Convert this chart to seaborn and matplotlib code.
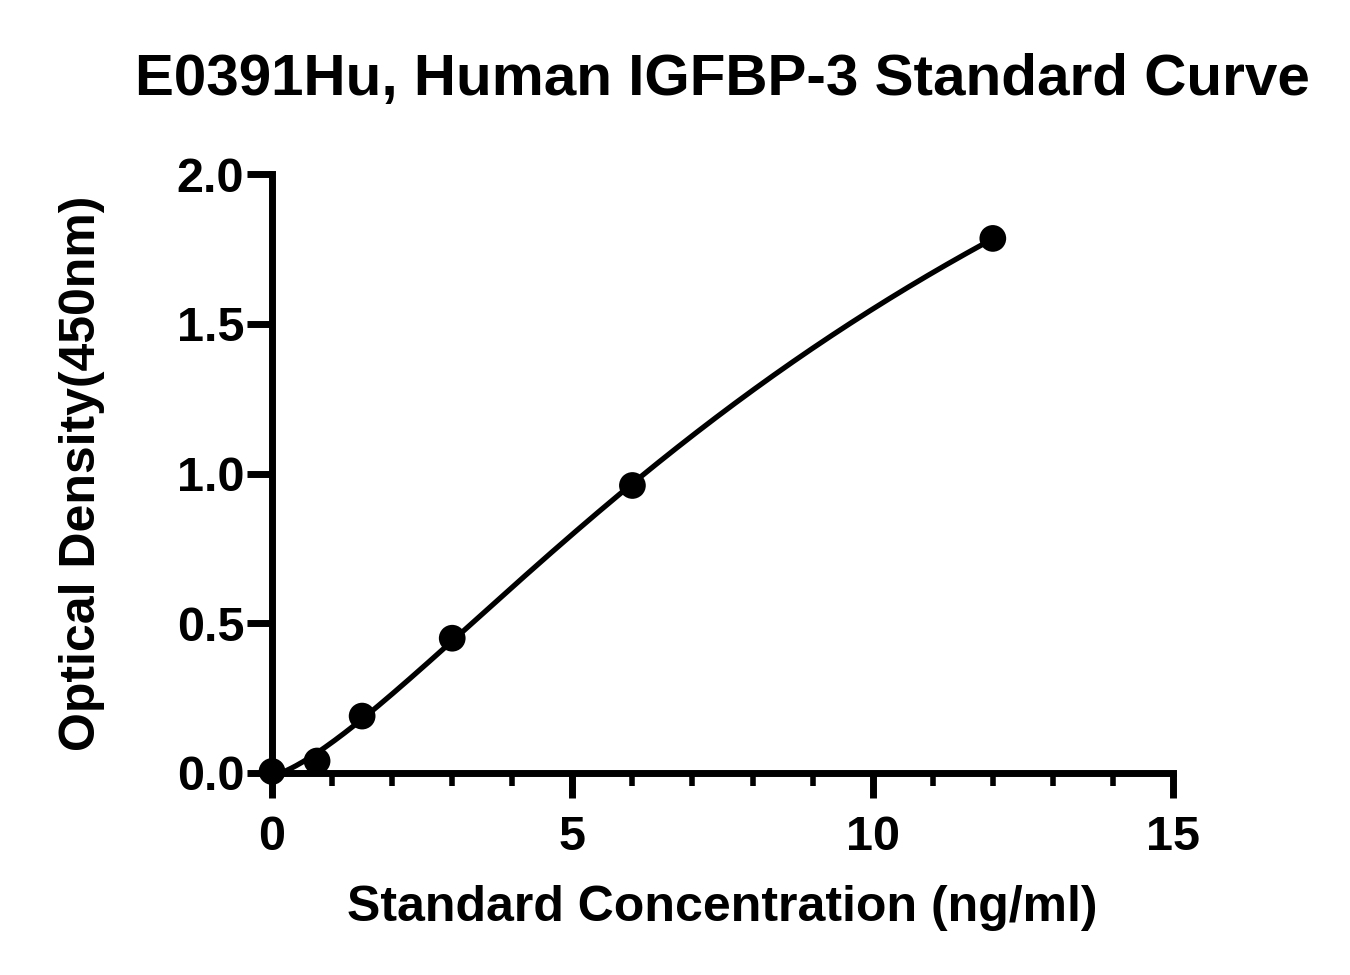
import numpy as np
import pandas as pd
import matplotlib
matplotlib.use('Agg')
import matplotlib.pyplot as plt
import seaborn as sb

# standard points
conc = [0, 0.75, 1.5, 3, 6, 12]
od = [0.005, 0.04, 0.19, 0.45, 0.96, 1.785]
title = 'E0391Hu, Human IGFBP-3 Standard Curve'
xlabel = 'Standard Concentration (ng/ml)'
ylabel = 'Optical Density(450nm)'
xticks = [0, 5, 10, 15]
yticks = [0.0, 0.5, 1.0, 1.5, 2.0]

sb.set_style('ticks', {'axes.edgecolor': 'black', 'text.color': 'black',
                       'axes.labelcolor': 'black', 'xtick.color': 'black',
                       'ytick.color': 'black'})
plt.rcParams['font.family'] = ['Liberation Sans', 'DejaVu Sans']
plt.rcParams['font.weight'] = 'bold'


def four_pl(p, x):
    a, b, c, d = p
    return d + (a - d) / (1 + (x / c) ** b)


def fit_4pl(x, y, p0, n_iter=500):
    # small Levenberg-Marquardt, numeric jacobian
    x = np.asarray(x, float)
    y = np.asarray(y, float)
    p = np.array(p0, float)
    lam = 1e-2
    err = np.sum((four_pl(p, x) - y) ** 2)
    for _ in range(n_iter):
        r = four_pl(p, x) - y
        J = np.zeros((len(x), len(p)))
        for j in range(len(p)):
            dp = np.zeros_like(p)
            dp[j] = 1e-6 * max(abs(p[j]), 1e-3)
            J[:, j] = (four_pl(p + dp, x) - four_pl(p, x)) / dp[j]
        H = J.T @ J
        step = np.linalg.solve(H + lam * np.diag(np.diag(H) + 1e-12), -J.T @ r)
        pn = p + step
        if pn[2] <= 0 or pn[1] <= 0:
            lam *= 10
            continue
        en = np.sum((four_pl(pn, x) - y) ** 2)
        if en < err:
            p, err, lam = pn, en, lam / 3
        else:
            lam *= 5
    return p


df = pd.DataFrame({'conc': conc, 'od': od})
params = fit_4pl(conc, od, [0.0, 1.5, 10.0, 3.5])
xs = np.linspace(0, max(conc), 300)
fit = pd.DataFrame({'conc': xs, 'od': four_pl(params, xs)})

fig = plt.figure(figsize=(13.5, 9.75), dpi=100)
ax = fig.add_axes([0.2015, 0.2072, 0.6674, 0.6143])

sb.lineplot(data=fit, x='conc', y='od', ax=ax, color='black', linewidth=3.8)
sb.scatterplot(data=df, x='conc', y='od', ax=ax, color='black', s=370,
               edgecolor='none', clip_on=False, zorder=5)

ax.set_xlim(0, 15)
ax.set_ylim(0, 2.0)
ax.set_xticks(xticks)
ax.set_xticks(np.arange(0, 16, 1), minor=True)
ax.set_yticks(yticks)
ax.set_yticklabels(['%.1f' % v for v in yticks])

sb.despine(ax=ax)
for s in ['left', 'bottom']:
    ax.spines[s].set_linewidth(5)
ax.tick_params(which='major', length=18, width=5, labelsize=35)
ax.tick_params(axis='x', which='major', pad=12)
ax.tick_params(axis='y', which='major', pad=2)
ax.tick_params(axis='x', which='minor', length=9, width=4)
for lab in ax.get_xticklabels() + ax.get_yticklabels():
    lab.set_fontweight('bold')

ax.set_xlabel(xlabel, fontsize=36, fontweight='bold', labelpad=18)
ax.set_ylabel(ylabel, fontsize=36, fontweight='bold', labelpad=52)
ax.set_title(title, fontsize=42, fontweight='bold', pad=57)

fig.savefig('out.png', dpi=100)
